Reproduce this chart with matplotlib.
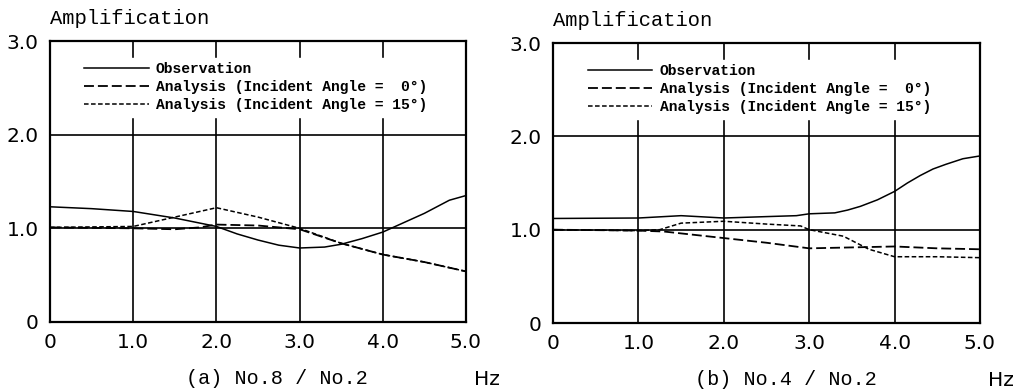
import numpy as np
import matplotlib
matplotlib.use("Agg")
import matplotlib.pyplot as plt

# data -------------------------------------------------------------
# (a) No.8 / No.2
a_obs_x = [0, 0.5, 1.0, 1.5, 2.0, 2.25, 2.5, 2.75, 3.0, 3.3, 3.5, 3.75, 4.0, 4.25, 4.5, 4.8, 5.0]
a_obs_y = [1.23, 1.21, 1.18, 1.11, 1.02, 0.94, 0.875, 0.82, 0.79, 0.80, 0.83, 0.89, 0.96, 1.06, 1.16, 1.30, 1.35]
a_ang0_x = [0, 1.0, 1.5, 1.8, 2.0, 2.5, 3.0, 3.5, 4.0, 4.5, 5.0]
a_ang0_y = [1.01, 1.0, 0.99, 1.01, 1.04, 1.03, 0.99, 0.84, 0.72, 0.64, 0.54]
a_ang15_x = [0, 1.0, 1.5, 2.0, 2.5, 3.0, 3.5, 4.0, 4.5, 5.0]
a_ang15_y = [1.01, 1.02, 1.12, 1.22, 1.12, 1.0, 0.84, 0.72, 0.64, 0.54]

# (b) No.4 / No.2
b_obs_x = [0, 1.0, 1.5, 2.0, 2.5, 2.85, 3.0, 3.3, 3.45, 3.6, 3.8, 4.0, 4.15, 4.3, 4.45, 4.6, 4.8, 5.0]
b_obs_y = [1.12, 1.125, 1.15, 1.125, 1.14, 1.15, 1.17, 1.18, 1.21, 1.25, 1.32, 1.41, 1.50, 1.58, 1.65, 1.70, 1.76, 1.79]
b_ang0_x = [0, 1.0, 1.3, 2.0, 2.5, 3.0, 3.5, 4.0, 4.5, 5.0]
b_ang0_y = [1.0, 0.99, 0.98, 0.91, 0.86, 0.80, 0.81, 0.82, 0.80, 0.79]
b_ang15_x = [0, 1.0, 1.25, 1.5, 2.0, 2.5, 2.9, 3.0, 3.4, 3.7, 4.0, 4.5, 5.0]
b_ang15_y = [1.0, 0.99, 1.0, 1.07, 1.09, 1.06, 1.04, 1.0, 0.93, 0.79, 0.71, 0.71, 0.70]

x_ticks = [0, 1, 2, 3, 4, 5]
x_labels = ["0", "1.0", "2.0", "3.0", "4.0", "5.0"]
y_ticks = [0, 1, 2, 3]
y_labels = ["0", "1.0", "2.0", "3.0"]

legend_labels = ["Observation",
                 "Analysis (Incident Angle =  0°)",
                 "Analysis (Incident Angle = 15°)"]
captions = ["(a) No.8 / No.2", "(b) No.4 / No.2"]

MONO = "Liberation Mono"
NUM = "DejaVu Sans"

fig = plt.figure(figsize=(10.19, 3.92), dpi=100)
ax_a = fig.add_axes([0.0491, 0.1786, 0.4082, 0.7168])
ax_b = fig.add_axes([0.5427, 0.176, 0.419, 0.7143])

panels = [
    (ax_a, (a_obs_x, a_obs_y), (a_ang0_x, a_ang0_y), (a_ang15_x, a_ang15_y), captions[0]),
    (ax_b, (b_obs_x, b_obs_y), (b_ang0_x, b_ang0_y), (b_ang15_x, b_ang15_y), captions[1]),
]

num_font = dict(fontfamily=NUM, fontsize=14.5)

for ax, obs, ang0, ang15, cap in panels:
    ax.set_xlim(0, 5)
    ax.set_ylim(0, 3)
    ax.set_xticks(x_ticks)
    ax.set_xticklabels(x_labels, **num_font)
    ax.set_yticks(y_ticks)
    ax.set_yticklabels(y_labels, **num_font)
    ax.tick_params(length=0, pad=8)
    for sp in ax.spines.values():
        sp.set_linewidth(1.6)
    ax.grid(True, color="black", linewidth=1.2)
    ax.set_axisbelow(True)

    ax.plot(*obs, color="black", lw=1.1, label=legend_labels[0], zorder=3)
    ax.plot(*ang0, color="black", lw=1.3, dashes=(5.5, 2.2), label=legend_labels[1], zorder=3)
    ax.plot(*ang15, color="black", lw=1.1, dashes=(3.0, 1.6), label=legend_labels[2], zorder=3)

    leg = ax.legend(loc="upper left", bbox_to_anchor=(0.072, 0.94),
                    prop={"family": MONO, "size": 10.5, "weight": "bold"},
                    handlelength=4.4, handletextpad=0.5, labelspacing=0.28,
                    borderpad=0.3, borderaxespad=0, frameon=True, fancybox=False)
    leg.get_frame().set_facecolor("white")
    leg.get_frame().set_edgecolor("white")
    leg.get_frame().set_alpha(1)
    leg.set_zorder(5)

    ax.text(0, 1.045, "Amplification", transform=ax.transAxes, ha="left", va="bottom",
            fontfamily=MONO, fontsize=14.8)
    ax.text(1.05, -0.205, "Hz", transform=ax.transAxes, ha="center", va="center",
            **num_font)
    ax.text(0.545, -0.2, cap, transform=ax.transAxes, ha="center", va="center",
            fontfamily=MONO, fontsize=14.5)

fig.savefig("out.png", dpi=100)
